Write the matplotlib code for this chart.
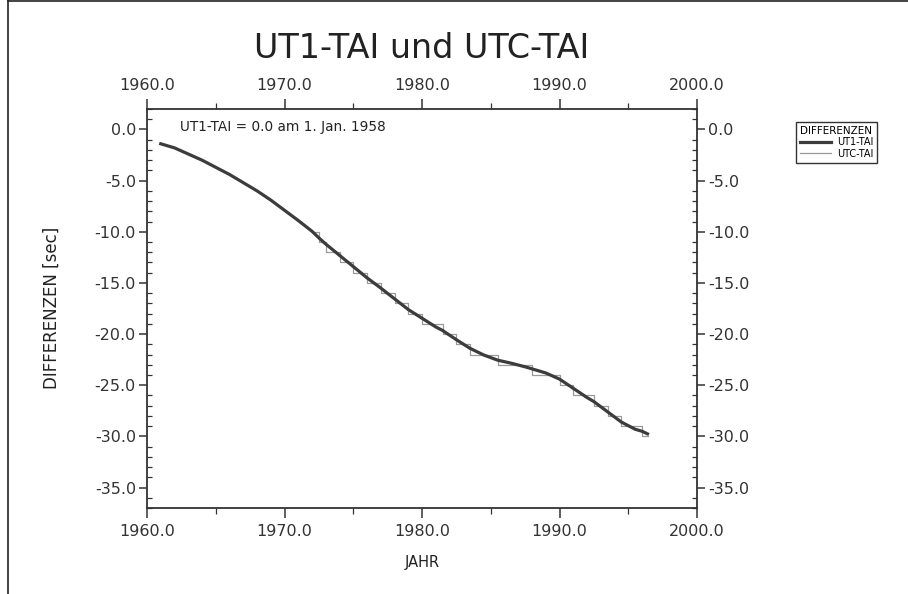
import matplotlib
matplotlib.use("Agg")
import matplotlib.pyplot as plt
from matplotlib.ticker import MultipleLocator, FormatStrFormatter
from matplotlib.lines import Line2D

plt.rcParams['font.family'] = ['DejaVu Sans']

# UT1-TAI (seconds)
years = [1961.0, 1962.0, 1963.0, 1964.0, 1965.0, 1966.0, 1967.0, 1968.0, 1969.0,
         1970.0, 1971.0, 1972.0, 1972.5, 1973.0, 1974.0, 1975.0, 1976.0, 1977.0,
         1978.0, 1979.0, 1980.0, 1981.0, 1981.5, 1982.5, 1983.5, 1984.5, 1985.5,
         1986.5, 1987.5, 1988.0, 1989.0, 1990.0, 1991.0, 1992.0, 1992.5, 1993.5,
         1994.5, 1995.5, 1996.0, 1996.4]
ut1_tai = [-1.4, -1.8, -2.4, -3.0, -3.7, -4.4, -5.2, -6.0, -6.9,
           -7.9, -8.9, -9.95, -10.6, -11.2, -12.3, -13.4, -14.5, -15.5,
           -16.55, -17.6, -18.45, -19.3, -19.65, -20.55, -21.4, -22.05, -22.55,
           -22.85, -23.2, -23.4, -23.8, -24.4, -25.3, -26.2, -26.6, -27.6,
           -28.6, -29.3, -29.5, -29.75]

# UTC-TAI (seconds), step function (leap seconds)
step_years = [1972.0, 1972.5, 1973.0, 1974.0, 1975.0, 1976.0, 1977.0, 1978.0, 1979.0,
              1980.0, 1981.5, 1982.5, 1983.5, 1985.5, 1988.0, 1990.0, 1991.0, 1992.5,
              1993.5, 1994.5, 1996.0, 1996.4]
utc_tai = [-10, -11, -12, -13, -14, -15, -16, -17, -18,
           -19, -20, -21, -22, -23, -24, -25, -26, -27,
           -28, -29, -30, -30]

fig = plt.figure(figsize=(9.08, 5.94), dpi=100)
ax = fig.add_axes([147/908, 1-508/594, 550/908, 399/594])

ax.step(step_years, utc_tai, where='post', color='#9a9a9a', lw=0.9, zorder=2)
ax.plot(years, ut1_tai, color='#3c3c3c', lw=2.3, zorder=3)

ax.set_xlim(1960, 2000)
ax.set_ylim(-37, 2)

ax.xaxis.set_major_locator(MultipleLocator(10))
ax.xaxis.set_minor_locator(MultipleLocator(5))
ax.yaxis.set_major_locator(MultipleLocator(5))
ax.yaxis.set_minor_locator(MultipleLocator(1))
ax.xaxis.set_major_formatter(FormatStrFormatter('%.1f'))
ax.yaxis.set_major_formatter(FormatStrFormatter('%.1f'))

tcol = '#333333'
ax.tick_params(axis='x', which='major', direction='out', length=7, width=1.1,
               top=True, labeltop=True, labelsize=11.5, colors=tcol, pad=4.5)
ax.tick_params(axis='x', which='minor', direction='out', length=4, width=0.9,
               top=True, colors=tcol)
ax.tick_params(axis='y', which='major', direction='out', length=6, width=1.1,
               right=True, labelright=True, labelsize=11.5, colors=tcol, pad=2)
ax.tick_params(axis='y', which='minor', direction='in', length=3.5, width=0.9,
               right=True, colors=tcol)
for s in ax.spines.values():
    s.set_linewidth(1.3)
    s.set_color(tcol)

ax.text(1962.4, 0.2, 'UT1-TAI = 0.0 am 1. Jan. 1958', fontsize=9.8,
        ha='left', va='center', color='#222222')

fig.text(422/908, 1-48/594, 'UT1-TAI und UTC-TAI', fontsize=24,
         ha='center', va='center', color='#222222')
fig.text(422/908, 1-562/594, 'JAHR', fontsize=10.5, ha='center', va='center',
         color='#222222')
fig.text(52/908, 1-308/594, 'DIFFERENZEN [sec]', fontsize=12, rotation=90,
         ha='center', va='center', color='#222222')

handles = [Line2D([], [], color='#3c3c3c', lw=2.3),
           Line2D([], [], color='#9a9a9a', lw=0.9)]
leg = fig.legend(handles, ['UT1-TAI', 'UTC-TAI'], title='DIFFERENZEN',
                 loc='upper left', bbox_to_anchor=(791/908, 1-117/594),
                 fontsize=7, title_fontsize=7.5, frameon=True, fancybox=False,
                 handlelength=3.2, borderpad=0.4, labelspacing=0.15,
                 handletextpad=0.6, framealpha=1)
leg.get_frame().set_edgecolor('#333333')
leg.get_frame().set_linewidth(1.0)

# scanned page frame
fig.add_artist(Line2D([8/908, 8/908], [0, 1], color='#222222', lw=1.2))
fig.add_artist(Line2D([8/908, 1], [1-1/594, 1-1/594], color='#222222', lw=1.2))

fig.savefig('out.png', dpi=100)
